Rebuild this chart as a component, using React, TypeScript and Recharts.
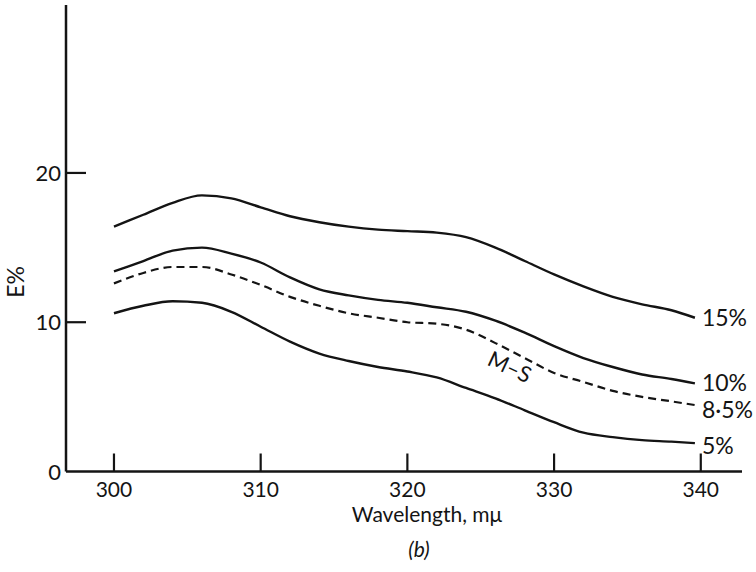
import React from 'react';
import { LineChart, Line, XAxis, YAxis, ReferenceDot } from 'recharts';

// Wavelength (mμ) sample points
const wavelengths = [300, 302, 304, 306, 308, 310, 312, 314, 316, 318, 320, 322, 324, 326, 328, 330, 332, 334, 336, 338, 339.6];

// E 1% values per curve
const e15 = [16.4, 17.2, 18.0, 18.5, 18.3, 17.7, 17.1, 16.7, 16.4, 16.2, 16.1, 16.0, 15.7, 15.0, 14.1, 13.2, 12.4, 11.7, 11.2, 10.8, 10.3];
const e10 = [13.4, 14.1, 14.8, 15.0, 14.6, 14.0, 13.0, 12.2, 11.8, 11.5, 11.3, 11.0, 10.7, 10.1, 9.3, 8.4, 7.6, 7.0, 6.5, 6.2, 5.9];
const e85 = [12.6, 13.3, 13.7, 13.7, 13.2, 12.5, 11.7, 11.1, 10.6, 10.3, 10.0, 9.9, 9.5, 8.6, 7.6, 6.6, 6.0, 5.4, 5.0, 4.7, 4.45];
const e5 = [10.6, 11.1, 11.4, 11.3, 10.7, 9.7, 8.7, 7.9, 7.4, 7.0, 6.7, 6.3, 5.6, 4.9, 4.1, 3.3, 2.6, 2.3, 2.1, 2.0, 1.9];

const xTicks = [300, 310, 320, 330, 340];
const yTicks = [0, 10, 20];

const curveLabels = ['15%', '10%', '8·5%', '5%'];
const msLabel = { wl: 327, e: 7.05, text: 'M–S' };

const data = wavelengths.map((wl, i) => ({ wl, e15: e15[i], e10: e10[i], e85: e85[i], e5: e5[i] }));
const last = wavelengths.length - 1;
const endValues = [e15[last], e10[last], e85[last], e5[last]];
const endOffsets = [0, 0, 5, 3]; // nudge for the labels

const ink = '#141414';
const font = 'Lato, "Open Sans", sans-serif';

const XTick = ({ x, y, payload }: any) => (
    <g>
        <line x1={x} y1={y} x2={x} y2={y - 18} stroke={ink} strokeWidth={2.2} />
        <text x={x} y={y + 25} textAnchor="middle" fontSize={21} fontFamily={font} fill={ink}>
            {payload.value}
        </text>
    </g>
);

const YTick = ({ x, y, payload }: any) => (
    <g>
        {payload.value !== 0 && <line x1={x} y1={y} x2={x + 20} y2={y} stroke={ink} strokeWidth={2.2} />}
        <text x={x - 5} y={y + 8} textAnchor="end" fontSize={22} fontFamily={font} fill={ink}>
            {payload.value}
        </text>
    </g>
);

const App = () => {
    return (
        <div style={{ position: 'absolute', left: 0, top: 0, background: '#fff' }}>
            <LineChart width={756} height={572} data={data} margin={{ top: 5, right: 14, left: 0, bottom: 0 }}>
                <XAxis
                    dataKey="wl"
                    type="number"
                    domain={[296.73, 342.81]}
                    ticks={xTicks}
                    allowDataOverflow
                    height={100.5}
                    tickSize={0}
                    tickMargin={0}
                    tickLine={false}
                    tick={<XTick />}
                    stroke={ink}
                    strokeWidth={2.5}
                    label={{
                        content: ({ viewBox }: any) => (
                            <g fontFamily={font} fill={ink}>
                                <text x={viewBox.x + 361} y={viewBox.y + 50} textAnchor="middle" fontSize={21}>
                                    Wavelength, mμ
                                </text>
                                <text x={viewBox.x + 353} y={viewBox.y + 85} textAnchor="middle" fontSize={21} fontStyle="italic">
                                    (b)
                                </text>
                            </g>
                        ),
                    }}
                />
                <YAxis
                    type="number"
                    domain={[0, 31.25]}
                    ticks={yTicks}
                    allowDataOverflow
                    width={66}
                    tickSize={0}
                    tickMargin={0}
                    tickLine={false}
                    tick={<YTick />}
                    stroke={ink}
                    strokeWidth={2.5}
                    label={{
                        content: () => (
                            <text
                                x={0}
                                y={0}
                                transform="translate(24 282) rotate(-90)"
                                textAnchor="middle"
                                fontSize={23}
                                fontFamily={font}
                                fill={ink}
                            >
                                E%
                            </text>
                        ),
                    }}
                />
                <Line type="monotone" dataKey="e15" stroke={ink} strokeWidth={2.4} dot={false} isAnimationActive={false} />
                <Line type="monotone" dataKey="e10" stroke={ink} strokeWidth={2.4} dot={false} isAnimationActive={false} />
                <Line type="monotone" dataKey="e85" stroke={ink} strokeWidth={2.2} strokeDasharray="8 5" dot={false} isAnimationActive={false} />
                <Line type="monotone" dataKey="e5" stroke={ink} strokeWidth={2.4} dot={false} isAnimationActive={false} />

                {/* end-of-curve labels */}
                {curveLabels.map((lbl, i) => (
                    <ReferenceDot
                        key={lbl}
                        x={wavelengths[last]}
                        y={endValues[i]}
                        r={1}
                        ifOverflow="visible"
                        shape={(p: any) => (
                            <text x={p.cx + 7} y={p.cy + 8 + endOffsets[i]} fontSize={23} fontFamily={font} fill={ink}>
                                {lbl}
                            </text>
                        )}
                    />
                ))}

                <ReferenceDot
                    x={msLabel.wl}
                    y={msLabel.e}
                    r={1}
                    ifOverflow="visible"
                    shape={(p: any) => (
                        <text
                            x={0}
                            y={0}
                            transform={`translate(${p.cx} ${p.cy}) rotate(25)`}
                            textAnchor="middle"
                            dominantBaseline="central"
                            fontSize={22}
                            fontFamily={font}
                            fill={ink}
                        >
                            {msLabel.text}
                        </text>
                    )}
                />
            </LineChart>
        </div>
    );
};

export default App;
